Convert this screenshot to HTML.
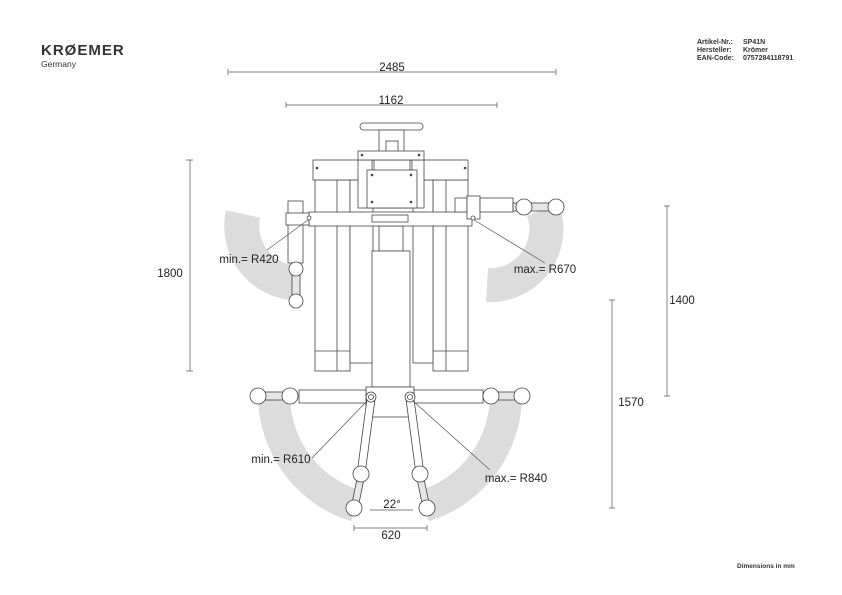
<!DOCTYPE html>
<html><head><meta charset="utf-8"><style>
html,body{margin:0;padding:0;background:#fff;}
svg{display:block;font-family:"Liberation Sans",sans-serif;}
</style></head><body>
<svg width="842" height="595" viewBox="0 0 842 595" xmlns="http://www.w3.org/2000/svg">
<rect width="842" height="595" fill="#fff"/>
<!-- logo -->
<text x="41" y="55" font-size="15" font-weight="bold" fill="#333" letter-spacing="1">KRØEMER</text>
<text x="41" y="67" font-size="8.5" fill="#333">Germany</text>
<g font-size="7" font-weight="bold" fill="#333">
<text x="697" y="44">Artikel-Nr.:</text><text x="743" y="44">SP41N</text>
<text x="697" y="52">Hersteller:</text><text x="743" y="52">Krömer</text>
<text x="697" y="60">EAN-Code:</text><text x="743" y="60">0757284118791</text>
<text x="737" y="568" font-size="6.5">Dimensions in mm</text>
</g>
<!-- grey arcs -->
<g fill="none" stroke="#dcdcdc">
<path d="M243,206 A57,57 0 0 0 300,275" stroke-width="35" transform="translate(0,8)"/>
<path d="M505,228 A57,57 0 0 1 487,285" stroke-width="0"/>
<path d="M543,210 A56,56 0 0 1 487,285" stroke-width="34"/>
<path d="M274,396 A116,116 0 0 0 356,506" stroke-width="32"/>
<path d="M506,396 A116,116 0 0 1 424,506" stroke-width="32"/>
</g>
<g fill="#fff" stroke="#444" stroke-width="0.8">
<!-- columns -->
<rect x="315" y="180" width="35" height="191"/>
<line x1="337" y1="180" x2="337" y2="371"/>
<line x1="315" y1="351" x2="350" y2="351"/>
<rect x="350" y="180" width="23" height="183"/>
<rect x="433" y="180" width="35" height="191"/>
<line x1="446" y1="180" x2="446" y2="371"/>
<line x1="433" y1="351" x2="468" y2="351"/>
<rect x="413" y="180" width="20" height="183"/>
<!-- central post -->
<rect x="379" y="226" width="24" height="25"/>
<rect x="372" y="251" width="38" height="136"/>
<!-- top -->
<rect x="360" y="123" width="63" height="7" rx="3.5"/>
<rect x="379" y="130" width="25" height="22"/>
<rect x="386" y="141" width="12" height="11"/>
<rect x="313" y="160" width="155" height="20"/>
<rect x="358" y="160" width="66" height="48"/>
<rect x="358" y="151" width="66" height="9"/>
<rect x="367" y="170" width="50" height="38"/>
<line x1="372" y1="160" x2="372" y2="170"/><line x1="374" y1="160" x2="374" y2="170"/>
<line x1="410" y1="160" x2="410" y2="170"/><line x1="412" y1="160" x2="412" y2="170"/>
<!-- crossbar -->
<rect x="309" y="212" width="163" height="14"/>
<rect x="372" y="215" width="36" height="7"/>
<rect x="288" y="201" width="15" height="62"/>
<rect x="286" y="213" width="23" height="12"/>
<rect x="455" y="198" width="12" height="14"/>
<rect x="467" y="196" width="13" height="23"/>
<rect x="480" y="198" width="33" height="14"/>
<rect x="513" y="203" width="43" height="8" fill="#e6e6e6"/>
<rect x="292" y="269" width="8" height="32" fill="#e6e6e6"/>
<circle cx="296" cy="269" r="7"/><circle cx="296" cy="301" r="7"/>
<circle cx="524" cy="207" r="8"/><circle cx="556" cy="207" r="8"/>
<circle cx="309" cy="218" r="2"/><circle cx="473" cy="218" r="2"/>
<!-- bottom -->
<rect x="366" y="387" width="48" height="30"/>
<rect x="299" y="390" width="67" height="13"/>
<rect x="414" y="390" width="69" height="13"/>
<rect x="258" y="392" width="32" height="8" fill="#e6e6e6"/>
<rect x="491" y="392" width="31" height="8" fill="#e6e6e6"/>
<circle cx="258" cy="396" r="8"/><circle cx="290" cy="396" r="8"/>
<circle cx="491" cy="396" r="8"/><circle cx="522" cy="396" r="8"/>
<polygon points="367,399 375,399 365,474 357,474"/>
<polygon points="406,399 414,399 424,474 416,474"/>
<polygon points="358,474 365,474 358,508 351,508" fill="#e6e6e6"/>
<polygon points="416,474 423,474 430,508 423,508" fill="#e6e6e6"/>
<circle cx="361" cy="474" r="8"/><circle cx="354" cy="508" r="8"/>
<circle cx="420" cy="474" r="8"/><circle cx="427" cy="508" r="8"/>
<circle cx="371" cy="397" r="5"/><circle cx="371" cy="397" r="2.5"/>
<circle cx="410" cy="397" r="5"/><circle cx="410" cy="397" r="2.5"/>
</g>
<g fill="#444">
<circle cx="317" cy="168" r="1.3"/><circle cx="465" cy="168" r="1.3"/>
<circle cx="362" cy="155" r="1.3"/><circle cx="419" cy="155" r="1.3"/>
<circle cx="372" cy="175" r="1.3"/><circle cx="411" cy="175" r="1.3"/>
<circle cx="372" cy="202" r="1.3"/><circle cx="411" cy="202" r="1.3"/>
</g>
<!-- dimension & leader lines -->
<g stroke="#555" stroke-width="0.7" fill="none">
<path d="M228,72 H556 M228,69 V75 M556,69 V75"/>
<path d="M286,105 H497 M286,102 V108 M497,102 V108"/>
<path d="M190,160 V371 M186,160 H193 M186,371 H193"/>
<path d="M667,206 V396 M664,206 H670 M664,396 H670"/>
<path d="M612,300 V508 M609,300 H615 M609,508 H615"/>
<path d="M354,528 H427 M354,525 V531 M427,525 V531"/>
<path d="M370,510 H413"/>
<path d="M308,220 L267,250"/>
<path d="M474,220 L545,263"/>
<path d="M367,401 L312,458"/>
<path d="M413,401 L490,470"/>
</g>
<g font-size="11.5" fill="#222" text-anchor="middle">
<text x="392" y="71">2485</text>
<text x="391" y="104">1162</text>
<text x="170" y="277">1800</text>
<text x="682" y="304">1400</text>
<text x="631" y="406">1570</text>
<text x="391" y="539">620</text>
<text x="392" y="508">22°</text>
<text x="249" y="263">min.= R420</text>
<text x="545" y="273">max.= R670</text>
<text x="281" y="463">min.= R610</text>
<text x="516" y="482">max.= R840</text>
</g>
</svg>
</body></html>
